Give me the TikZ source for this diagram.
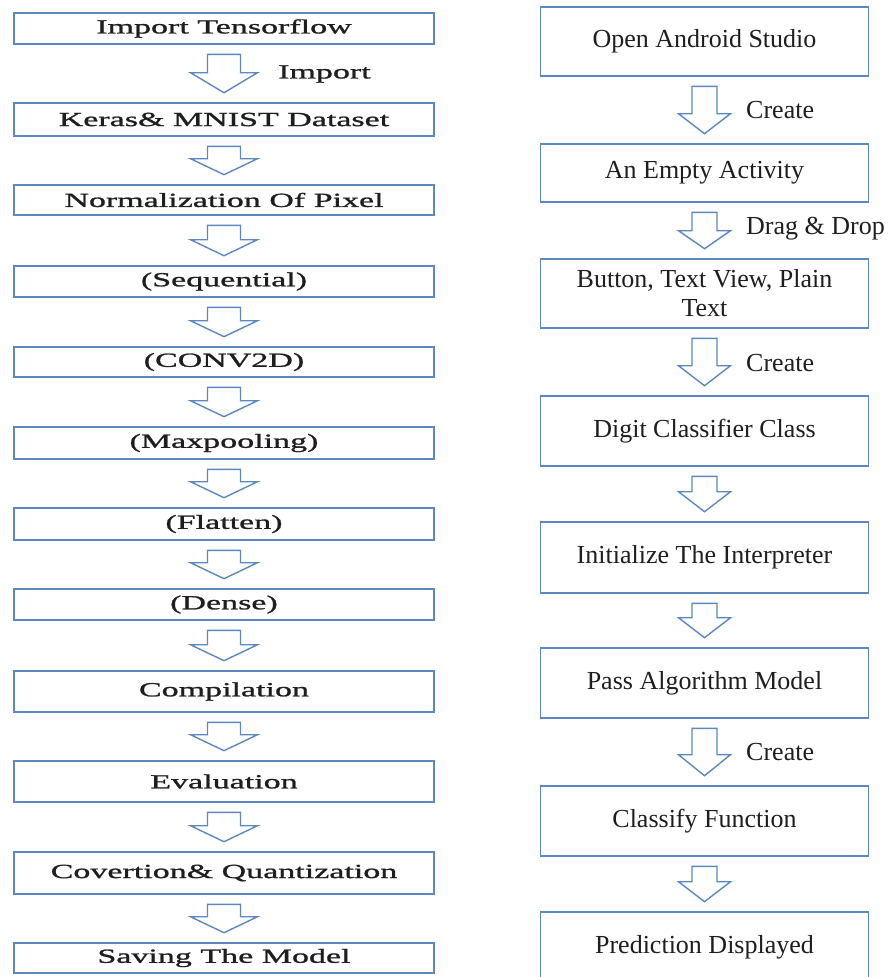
\documentclass[tikz,border=0pt]{standalone}
\usepackage{fontspec}
\setmainfont{Liberation Serif}
\newfontfamily\wideserif[FakeStretch=1.7, FakeBold=1.2]{Liberation Serif}
\usetikzlibrary{calc}
\definecolor{boxblue}{RGB}{92,136,191}
\definecolor{inkgray}{RGB}{30,30,30}

% hollow block arrow: from box, to box, stem half width, head half width, head height
\newcommand{\fatarrow}[5]{%
  \coordinate (ft) at ($(#1.south)+(0pt,-9.5pt)$);
  \coordinate (fb) at ($(#2.north)+(0pt,9.5pt)$);
  \coordinate (fm) at ($(fb)+(0pt,#5)$);
  \draw[fat] ($(ft)+(-#3,0pt)$) -- ($(fm)+(-#3,0pt)$) -- ($(fm)+(-#4,0pt)$) -- (fb)
    -- ($(fm)+(#4,0pt)$) -- ($(fm)+(#3,0pt)$) -- ($(ft)+(#3,0pt)$) -- cycle;}

\begin{document}
\begin{tikzpicture}[x=1pt, y=-1pt,
    lbox/.style={draw=boxblue, line width=1.6pt, minimum width=420pt, inner sep=0pt,
      text=inkgray, font=\fontsize{20}{24}\selectfont\wideserif},
    rbox/.style={draw=boxblue, line width=1.6pt, minimum width=328pt, inner sep=0pt,
      text=inkgray, align=center, font=\fontsize{26}{29}\selectfont},
    fat/.style={draw=boxblue, line width=1.4pt, line join=miter},
    lnote/.style={anchor=west, inner sep=0pt, text=inkgray, font=\fontsize{20}{24}\selectfont\wideserif},
    rnote/.style={anchor=west, inner sep=0pt, text=inkgray, font=\fontsize{26}{29}\selectfont}]
  \useasboundingbox (0, 0) rectangle (895, 977);
  % left column
  \node[lbox, minimum height=31pt] (l1) at (224, 28.5) {Import Tensorflow};
  \node[lbox, minimum height=33pt] (l2) at (224, 119.5) {Keras\& MNIST Dataset};
  \node[lbox, minimum height=30pt] (l3) at (224, 200) {Normalization Of Pixel};
  \node[lbox, minimum height=31pt] (l4) at (224, 281.5) {(Sequential)};
  \node[lbox, minimum height=30pt] (l5) at (224, 362) {(CONV2D)};
  \node[lbox, minimum height=32pt] (l6) at (224, 443) {(Maxpooling)};
  \node[lbox, minimum height=32pt] (l7) at (224, 524) {(Flatten)};
  \node[lbox, minimum height=31pt] (l8) at (224, 604.5) {(Dense)};
  \node[lbox, minimum height=41pt] (l9) at (224, 691.5) {Compilation};
  \node[lbox, minimum height=41pt] (l10) at (224, 781.5) {Evaluation};
  \node[lbox, minimum height=42pt] (l11) at (224, 873) {Covertion\& Quantization};
  \node[lbox, minimum height=30pt] (l12) at (224, 958) {Saving The Model};
  % right column
  \node[rbox, minimum height=69pt] (r1) at (704.5, 41.5) {Open Android Studio};
  \node[rbox, minimum height=58pt] (r2) at (704.5, 173) {An Empty Activity};
  \node[rbox, minimum height=69pt] (r3) at (704.5, 293.5) {Button, Text View, Plain\\Text};
  \node[rbox, minimum height=70pt] (r4) at (704.5, 431) {Digit Classifier Class};
  \node[rbox, minimum height=71pt] (r5) at (704.5, 557.5) {Initialize The Interpreter};
  \node[rbox, minimum height=70pt] (r6) at (704.5, 683) {Pass Algorithm Model};
  \node[rbox, minimum height=70pt] (r7) at (704.5, 821) {Classify Function};
  \node[rbox, minimum height=70pt] (r8) at (704.5, 947) {Prediction Displayed};
  % left arrows
  \fatarrow{l1}{l2}{16.5pt}{33.5pt}{20pt}
  \fatarrow{l2}{l3}{16.5pt}{33.5pt}{16pt}
  \fatarrow{l3}{l4}{16.5pt}{33.5pt}{16pt}
  \fatarrow{l4}{l5}{16.5pt}{33.5pt}{16pt}
  \fatarrow{l5}{l6}{16.5pt}{33.5pt}{16pt}
  \fatarrow{l6}{l7}{16.5pt}{33.5pt}{16pt}
  \fatarrow{l7}{l8}{16.5pt}{33.5pt}{16pt}
  \fatarrow{l8}{l9}{16.5pt}{33.5pt}{16pt}
  \fatarrow{l9}{l10}{16.5pt}{33.5pt}{16pt}
  \fatarrow{l10}{l11}{16.5pt}{33.5pt}{16pt}
  \fatarrow{l11}{l12}{16.5pt}{33.5pt}{16pt}
  % right arrows
  \fatarrow{r1}{r2}{12.5pt}{26pt}{20pt}
  \fatarrow{r2}{r3}{12.5pt}{26pt}{18pt}
  \fatarrow{r3}{r4}{12.5pt}{26pt}{20pt}
  \fatarrow{r4}{r5}{12.5pt}{26pt}{20pt}
  \fatarrow{r5}{r6}{12.5pt}{26pt}{20pt}
  \fatarrow{r6}{r7}{12.5pt}{26pt}{21pt}
  \fatarrow{r7}{r8}{12.5pt}{26pt}{20pt}
  % labels
  \node[lnote] (imp) at (278, 74) {Import};
  \node[rnote] (cr1) at (746, 110) {Create};
  \node[rnote] (dd) at (746, 229) {Drag \& Drop};
  \node[rnote] (cr2) at (746, 363) {Create};
  \node[rnote] (cr3) at (746, 752) {Create};
\end{tikzpicture}
\end{document}
